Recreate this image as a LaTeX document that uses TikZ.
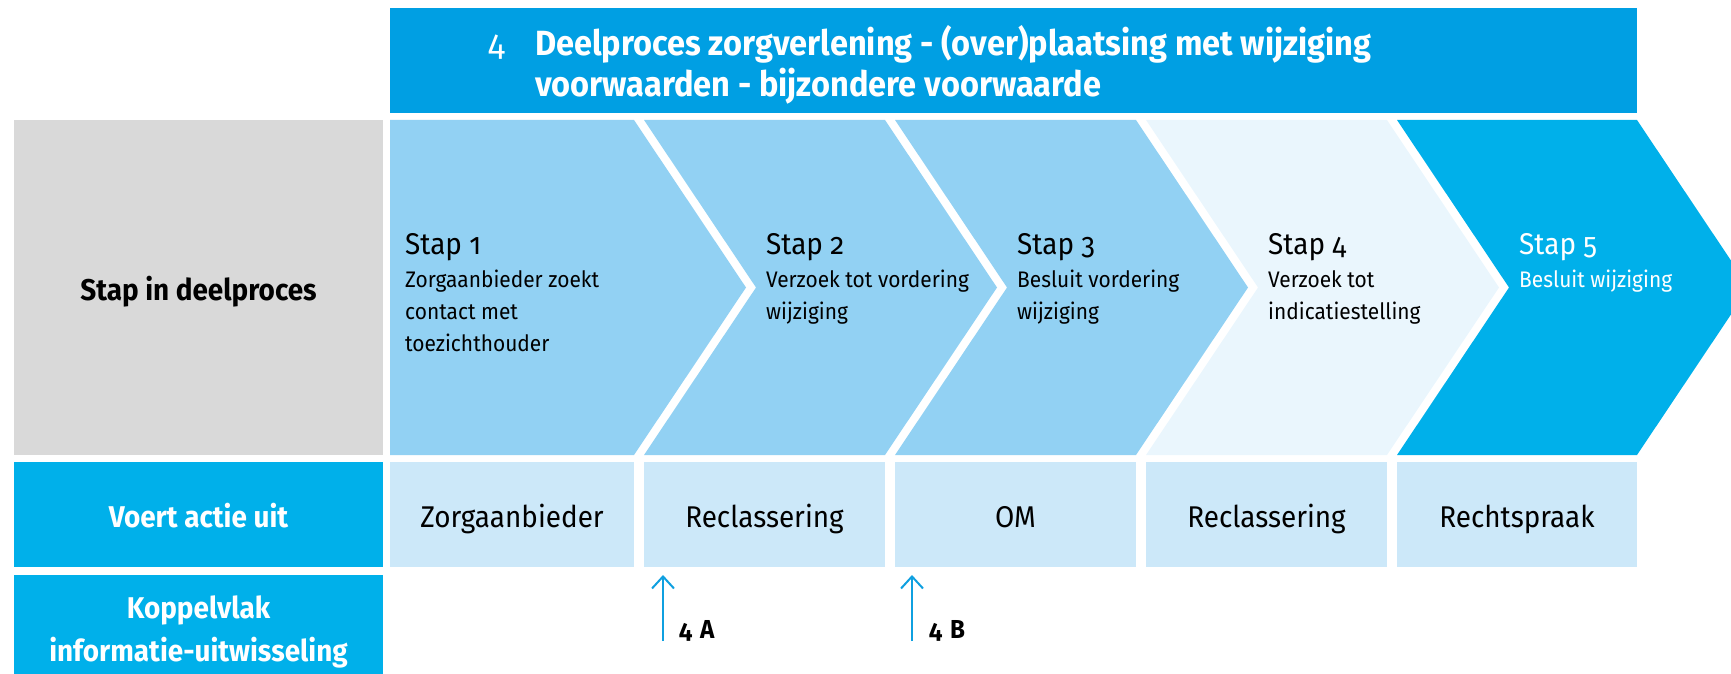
\documentclass[tikz,border=0pt]{standalone}
\usepackage{fontspec}
\setmainfont{Fira Sans}[Numbers=OldStyle,FakeStretch=0.93]
\usetikzlibrary{arrows.meta}
\definecolor{hdr}{HTML}{009FE3}
\definecolor{lblue}{HTML}{00B0EA}
\definecolor{chev}{HTML}{92D1F3}
\definecolor{chevlight}{HTML}{EAF6FD}
\definecolor{cellc}{HTML}{CCE8F9}
\definecolor{grayc}{HTML}{D9D9D9}
\definecolor{arrc}{HTML}{0FA0E0}
\tikzset{
  fs/.style={font=\fontsize{#1}{#1}\selectfont},
  txt/.style={inner sep=0pt, anchor=base west},
  ctxt/.style={inner sep=0pt, anchor=base},
  stapt/.style={txt, fs=30},
  desct/.style={txt, fs=22.5},
  cellt/.style={ctxt, fs=30},
  lblt/.style={ctxt, fs=30, text=white, font=\fontsize{30}{30}\selectfont\bfseries},
  titlet/.style={txt, text=white, font=\fontsize{35}{35}\selectfont\bfseries},
  arr/.style={draw=arrc, line width=2pt, -{Straight Barb[length=12pt,width=22pt,line width=2pt]}},
  kt/.style={txt, font=\fontsize{26}{26}\selectfont\bfseries},
}
\begin{document}
\begin{tikzpicture}[x=1pt,y=-1pt]
\useasboundingbox (0,0) rectangle (1731,674);
\clip (0,0) rectangle (1731,674);
% header
\fill[hdr] (390,8) rectangle (1637,113);
\node[titlet, font=\fontsize{36}{36}\selectfont\mdseries] (t4) at (488,56) {4};
\node[titlet] (t1) at (535,56) {Deelproces zorgverlening - (over)plaatsing met wijziging};
\node[titlet] (t2) at (535,97) {voorwaarden - bijzondere voorwaarde};
% left labels
\fill[grayc] (14,120) rectangle (383,455);
\node[ctxt, font=\fontsize{30}{30}\selectfont\bfseries] (l1) at (198.5,300) {Stap in deelproces};
\fill[lblue] (14,462) rectangle (383,567);
\node[lblt] (l2) at (198.5,527) {Voert actie uit};
\fill[lblue] (14,575) rectangle (383,674);
\node[lblt] (l3a) at (198.5,618) {Koppelvlak};
\node[lblt] (l3b) at (198.5,661) {informatie-uitwisseling};
% chevrons
\fill[chev] (390,120) -- (634,120) -- (746,287.5) -- (634,455) -- (390,455) -- cycle;
\fill[chev] (644,120) -- (885,120) -- (997,287.5) -- (885,455) -- (644,455) -- (756,287.5) -- cycle;
\fill[chev] (895,120) -- (1136,120) -- (1248,287.5) -- (1136,455) -- (895,455) -- (1007,287.5) -- cycle;
\fill[chevlight] (1146,120) -- (1387,120) -- (1499,287.5) -- (1387,455) -- (1146,455) -- (1258,287.5) -- cycle;
\fill[lblue] (1397,120) -- (1637,120) -- (1749,287.5) -- (1637,455) -- (1397,455) -- (1509,287.5) -- cycle;
% chevron texts
\node[stapt] (s1) at (405,254) {Stap 1};
\node[desct] (s1a) at (405,287) {Zorgaanbieder zoekt};
\node[desct] (s1b) at (405,319) {contact met};
\node[desct] (s1c) at (405,351) {toezichthouder};
\node[stapt] (s2) at (766,254) {Stap 2};
\node[desct] (s2a) at (766,287) {Verzoek tot vordering};
\node[desct] (s2b) at (766,319) {wijziging};
\node[stapt] (s3) at (1017,254) {Stap 3};
\node[desct] (s3a) at (1017,287) {Besluit vordering};
\node[desct] (s3b) at (1017,319) {wijziging};
\node[stapt] (s4) at (1268,254) {Stap 4};
\node[desct] (s4a) at (1268,287) {Verzoek tot};
\node[desct] (s4b) at (1268,319) {indicatiestelling};
\node[stapt, text=white] (s5) at (1519,254) {Stap 5};
\node[desct, text=white] (s5a) at (1519,287) {Besluit wijziging};
% cells
\fill[cellc] (390,462) rectangle (634,567);
\fill[cellc] (644,462) rectangle (885,567);
\fill[cellc] (895,462) rectangle (1136,567);
\fill[cellc] (1146,462) rectangle (1387,567);
\fill[cellc] (1397,462) rectangle (1637,567);
\coordinate (c2b) at (764.5,567);
\coordinate (c3b) at (1015.5,567);
\node[cellt] (a1) at (512,527) {Zorgaanbieder};
\node[cellt] (a2) at (764.5,527) {Reclassering};
\node[cellt] (a3) at (1015.5,527) {OM};
\node[cellt] (a4) at (1266.5,527) {Reclassering};
\node[cellt] (a5) at (1517,527) {Rechtspraak};
% koppelvlak arrows
\coordinate (kA) at (663,641);
\coordinate (kB) at (912,641);
\draw[arr, shorten >=8pt] (kA) -- (kA |- c2b);
\draw[arr, shorten >=8pt] (kB) -- (kB |- c3b);
\node[kt] (kAl) at (679,638) {4\hspace{8pt}A};
\node[kt] (kBl) at (929,638) {4\hspace{8pt}B};
\end{tikzpicture}
\end{document}
